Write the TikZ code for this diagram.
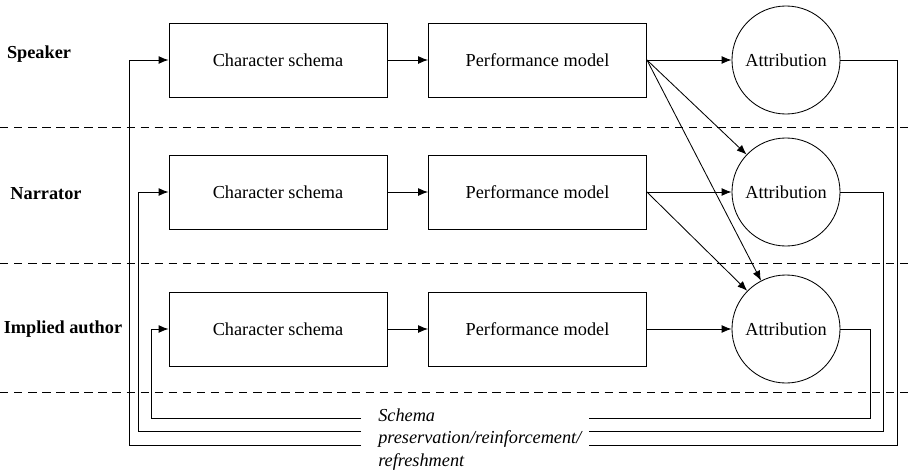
\documentclass[tikz,border=0pt]{standalone}
\usepackage{fontspec}
\setmainfont{Liberation Serif}
\usetikzlibrary{positioning,arrows.meta}
\tikzset{%
  schema/.style={draw, rectangle, line width=0.6pt, minimum width=5.45cm,
    minimum height=1.85cm, font=\fontsize{13}{15}\selectfont},% model boxes
  attrib/.style={draw, circle, line width=0.6pt, minimum size=2.7cm,
    inner sep=0pt, font=\fontsize{13}{15}\selectfont},% attribution circles
  level/.style={font=\fontsize{13}{15}\selectfont\bfseries},% row labels
  flow/.style={line width=0.6pt, -{Latex[length=7pt,width=5.5pt]}},
  feedback/.style={line width=0.6pt},
  divider/.style={line width=0.6pt, dash pattern=on 6pt off 4pt},
  fbnote/.style={align=left, inner sep=0pt,
    font=\fontsize{13}{16}\selectfont\itshape}% feedback label
}

\begin{document}
\begin{tikzpicture}[x=0.025cm, y=-0.025cm]
\useasboundingbox (0,0) rectangle (909,474);

\node[level] (speaker)  at (39,54)  {Speaker};
\node[level] (narrator) at (46,194) {Narrator};
\node[level] (implied)  at (63,329) {Implied author};

\node[schema] (cs1) at (278,60)  {Character schema};
\node[schema] (cs2) at (278,192) {Character schema};
\node[schema] (cs3) at (278,329) {Character schema};
\node[schema] (pm1) at (537.5,60)  {Performance model};
\node[schema] (pm2) at (537.5,192) {Performance model};
\node[schema] (pm3) at (537.5,329) {Performance model};
\node[attrib] (att1) at (786,60)  {Attribution};
\node[attrib] (att2) at (786,192) {Attribution};
\node[attrib] (att3) at (786,329) {Attribution};

%%%% dividers between levels
\draw[divider] (0,127) -- (909,127);
\draw[divider] (0,263) -- (909,263);
\draw[divider] (0,392) -- (909,392);

%%%% forward flow
\draw[flow] (cs1) -- (pm1);
\draw[flow] (cs2) -- (pm2);
\draw[flow] (cs3) -- (pm3);
\draw[flow] (pm1) -- (att1);
\draw[flow] (pm2) -- (att2);
\draw[flow] (pm3) -- (att3);
\draw[flow] (pm1.east) -- (att2);
\draw[flow] (pm1.east) -- (att3);
\draw[flow] (pm2.east) -- (att3);

%%%% feedback loops
\coordinate (fb1l) at (361,445);
\coordinate (fb1r) at (589,445);
\coordinate (fb2l) at (361,431);
\coordinate (fb2r) at (589,431);
\coordinate (fb3l) at (361,418);
\coordinate (fb3r) at (589,418);

\draw[feedback] (att1.east) -- ++(57,0) |- (fb1r);
\draw[feedback] (att2.east) -- ++(43,0) |- (fb2r);
\draw[feedback] (att3.east) -- ++(30,0) |- (fb3r);
\draw[flow] (fb1l) -| ([xshift=-0.975cm]cs1.west) -- (cs1.west);
\draw[flow] (fb2l) -| ([xshift=-0.75cm]cs2.west) -- (cs2.west);
\draw[flow] (fb3l) -| ([xshift=-0.425cm]cs3.west) -- (cs3.west);

\node[fbnote, anchor=north west] (fbtext) at (378,408.5)
  {Schema\\preservation/reinforcement/\\refreshment};
\end{tikzpicture}
\end{document}
